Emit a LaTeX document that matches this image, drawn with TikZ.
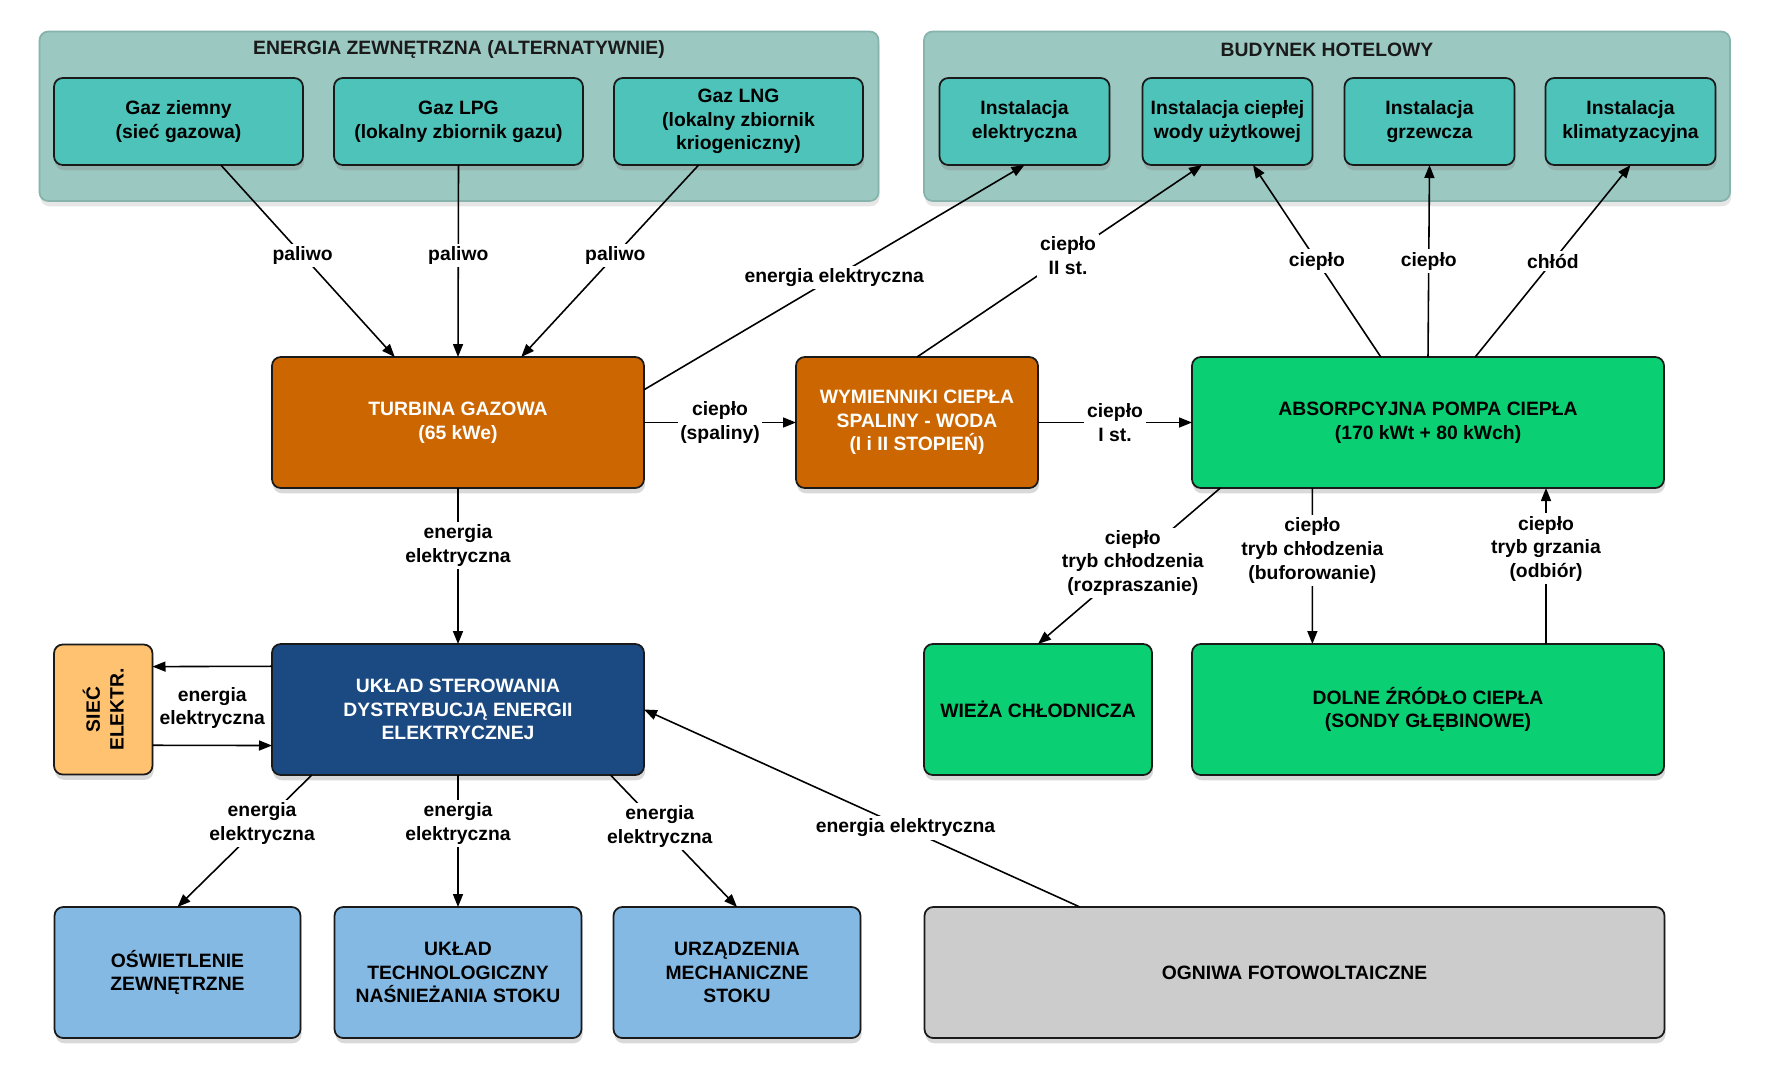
\documentclass[tikz,border=0pt]{standalone}
\usepackage{fontspec}
\setmainfont{Liberation Sans}
\usetikzlibrary{arrows.meta,backgrounds,calc,fit,positioning,shadows}
\definecolor{ink}{HTML}{1A1A1A}
\definecolor{grpFill}{HTML}{9CC8C2}
\definecolor{grpLine}{HTML}{86B3AC}
\definecolor{tealBox}{HTML}{4DC3B9}
\definecolor{rust}{HTML}{CC6600}
\definecolor{mint}{HTML}{0ACF73}
\definecolor{navy}{HTML}{1B4A83}
\definecolor{sand}{HTML}{FFC271}
\definecolor{sky}{HTML}{84B9E3}
\definecolor{stone}{HTML}{CCCCCC}
\tikzset{
  basebox/.style={draw=ink,line width=1pt,rounded corners=5pt,align=center,
    font=\bfseries\fontsize{11}{13.5}\selectfont,inner sep=3pt,outer sep=0pt,
    text=black,drop shadow={shadow xshift=0.6pt,shadow yshift=-3pt,opacity=0.3}},
  groupbox/.style={draw=grpLine,fill=grpFill,line width=1pt,rounded corners=5pt,inner sep=0pt,
    drop shadow={shadow xshift=0.6pt,shadow yshift=-3pt,opacity=0.2}},
  grouptitle/.style={font=\bfseries\fontsize{11}{13.5}\selectfont,text=ink},
  srcbox/.style={basebox,fill=tealBox,minimum width=4.98cm,minimum height=1.74cm},
  instbox/.style={basebox,fill=tealBox,minimum width=3.4cm,minimum height=1.74cm},
  hotbox/.style={basebox,fill=rust,text=white,minimum height=2.62cm},
  greenbox/.style={basebox,fill=mint,minimum height=2.62cm},
  ctrlbox/.style={basebox,fill=navy,text=white,minimum height=2.62cm},
  gridbox/.style={basebox,fill=sand,minimum width=1.97cm,minimum height=2.6cm},
  loadbox/.style={basebox,fill=sky,minimum height=2.62cm},
  pvbox/.style={basebox,fill=stone,minimum height=2.62cm},
  arr/.style={-{Triangle[length=2.6mm,width=2mm]},line width=0.9pt,draw=black},
  lbl/.style={fill=white,inner sep=1.5pt,align=center,text=black,
    font=\bfseries\fontsize{11}{13.5}\selectfont}
}
\begin{document}
\begin{tikzpicture}
  \useasboundingbox (0,0) rectangle (35.42,-21.58);

  % zrodla gazu
  \node[srcbox] (gzz) at (3.57,-2.43) {Gaz ziemny\\(sieć gazowa)};
  \node[srcbox,right=0.62cm of gzz] (lpg) {Gaz LPG\\(lokalny zbiornik gazu)};
  \node[srcbox,right=0.62cm of lpg] (lng) {Gaz LNG\\(lokalny zbiornik\\kriogeniczny)};

  % instalacje hotelu
  \node[instbox] (iel) at (20.49,-2.43) {Instalacja\\elektryczna};
  \node[instbox,right=0.66cm of iel] (icw) {Instalacja ciepłej\\wody użytkowej};
  \node[instbox,right=0.64cm of icw] (igr) {Instalacja\\grzewcza};
  \node[instbox,right=0.62cm of igr] (ikl) {Instalacja\\klimatyzacyjna};

  % grupy
  \begin{scope}[on background layer]
    \node[groupbox,fit={($(gzz.south west)+(-0.29,-0.72)$) ($(lng.north east)+(0.31,0.93)$)}] (grpEn) {};
    \node[groupbox,fit={($(iel.south west)+(-0.31,-0.72)$) ($(ikl.north east)+(0.29,0.93)$)}] (grpHot) {};
  \end{scope}
  \node[grouptitle] (grpEnT) at ($(grpEn.north)+(0,-0.38)$) {ENERGIA ZEWNĘTRZNA (ALTERNATYWNIE)};
  \node[grouptitle] (grpHotT) at ($(grpHot.north)+(0,-0.38)$) {BUDYNEK HOTELOWY};

  % rzad 2
  \node[hotbox,minimum width=7.44cm] (turb) at (9.16,-8.45) {TURBINA GAZOWA\\(65 kWe)};
  \node[hotbox,minimum width=4.84cm,right=3.04cm of turb] (wym) {WYMIENNIKI CIEPŁA\\SPALINY - WODA\\(I i II STOPIEŃ)};
  \node[greenbox,minimum width=9.44cm,right=3.08cm of wym] (apc) {ABSORPCYJNA POMPA CIEPŁA\\(170 kWt + 80 kWch)};

  % rzad 3
  \node[ctrlbox,minimum width=7.44cm,below=3.12cm of turb] (uklad) {UKŁAD STEROWANIA\\DYSTRYBUCJĄ ENERGII\\ELEKTRYCZNEJ};
  \node[gridbox,left=2.39cm of uklad] (siec) {};
  \node[rotate=90,align=center,font=\bfseries\fontsize{11}{13.5}\selectfont] (siecT) at (siec) {SIEĆ\\ELEKTR.};
  \node[greenbox,minimum width=4.56cm,right=5.6cm of uklad] (wieza) {WIEŻA CHŁODNICZA};
  \node[greenbox,minimum width=9.44cm,right=0.8cm of wieza] (dolne) {DOLNE ŹRÓDŁO CIEPŁA\\(SONDY GŁĘBINOWE)};

  % rzad 4
  \node[loadbox,minimum width=4.94cm,below=2.64cm of uklad] (tech) {UKŁAD\\TECHNOLOGICZNY\\NAŚNIEŻANIA STOKU};
  \node[loadbox,minimum width=4.92cm,left=0.68cm of tech] (osw) {OŚWIETLENIE\\ZEWNĘTRZNE};
  \node[loadbox,minimum width=4.94cm,right=0.64cm of tech] (urz) {URZĄDZENIA\\MECHANICZNE\\STOKU};
  \node[pvbox,minimum width=14.8cm,right=1.28cm of urz] (pv) {OGNIWA FOTOWOLTAICZNE};

  % paliwo
  \draw[arr] ($(gzz.south west)!0.67!(gzz.south east)$) -- node[lbl,pos=0.47]{paliwo} ($(turb.north west)!0.33!(turb.north east)$);
  \draw[arr] (lpg.south) -- node[lbl,pos=0.47]{paliwo} (turb.north);
  \draw[arr] ($(lng.south west)!0.34!(lng.south east)$) -- node[lbl,pos=0.47]{paliwo} ($(turb.north west)!0.67!(turb.north east)$);

  % energia do hotelu
  \draw[arr] ($(turb.north east)!0.25!(turb.south east)$) -- node[lbl,pos=0.5]{energia elektryczna} (iel.south);
  \draw[arr] (wym.north) -- node[lbl,pos=0.53]{ciepło\\II st.} ($(icw.south west)!0.35!(icw.south east)$);
  \draw[arr] ($(apc.north west)!0.4!(apc.north east)$) -- node[lbl,pos=0.5]{ciepło} ($(icw.south west)!0.65!(icw.south east)$);
  \draw[arr] (apc.north) -- node[lbl,pos=0.5]{ciepło} (igr.south);
  \draw[arr] ($(apc.north west)!0.6!(apc.north east)$) -- node[lbl,pos=0.5]{chłód} (ikl.south);

  % cieplo
  \draw[arr] (turb.east) -- node[lbl]{ciepło\\(spaliny)} (wym.west);
  \draw[arr] (wym.east) -- node[lbl]{ciepło\\I st.} (apc.west);
  \draw[arr] ($(apc.south west)!0.06!(apc.south east)$) -- node[lbl,pos=0.48]{ciepło\\tryb chłodzenia\\(rozpraszanie)} (wieza.north);
  \draw[arr] ($(apc.south west)!0.255!(apc.south east)$) -- node[lbl,pos=0.4]{ciepło\\tryb chłodzenia\\(buforowanie)} ($(dolne.north west)!0.255!(dolne.north east)$);
  \draw[arr] ($(dolne.north west)!0.75!(dolne.north east)$) -- node[lbl,pos=0.61]{ciepło\\tryb grzania\\(odbiór)} ($(apc.south west)!0.75!(apc.south east)$);

  % energia elektryczna
  \draw[arr] (turb.south) -- node[lbl,pos=0.37]{energia\\elektryczna} (uklad.north);
  \draw[arr] ($(uklad.north west)!0.17!(uklad.south west)$) -- ($(siec.north east)!0.17!(siec.south east)$);
  \draw[arr] ($(siec.north east)!0.775!(siec.south east)$) -- ($(uklad.north west)!0.775!(uklad.south west)$);
  \node[lbl,fill=none] (siecLbl) at ($(siec.east)!0.5!(uklad.west)+(0,0.03)$) {energia\\elektryczna};
  \draw[arr] ($(uklad.south west)!0.107!(uklad.south east)$) -- node[lbl,pos=0.37]{energia\\elektryczna} (osw.north);
  \draw[arr] (uklad.south) -- node[lbl,pos=0.37]{energia\\elektryczna} (tech.north);
  \draw[arr] ($(uklad.south west)!0.91!(uklad.south east)$) -- node[lbl,pos=0.39]{energia\\elektryczna} (urz.north);
  \draw[arr] ($(pv.north west)!0.21!(pv.north east)$) -- node[lbl,pos=0.4]{energia elektryczna} (uklad.east);
\end{tikzpicture}
\end{document}
